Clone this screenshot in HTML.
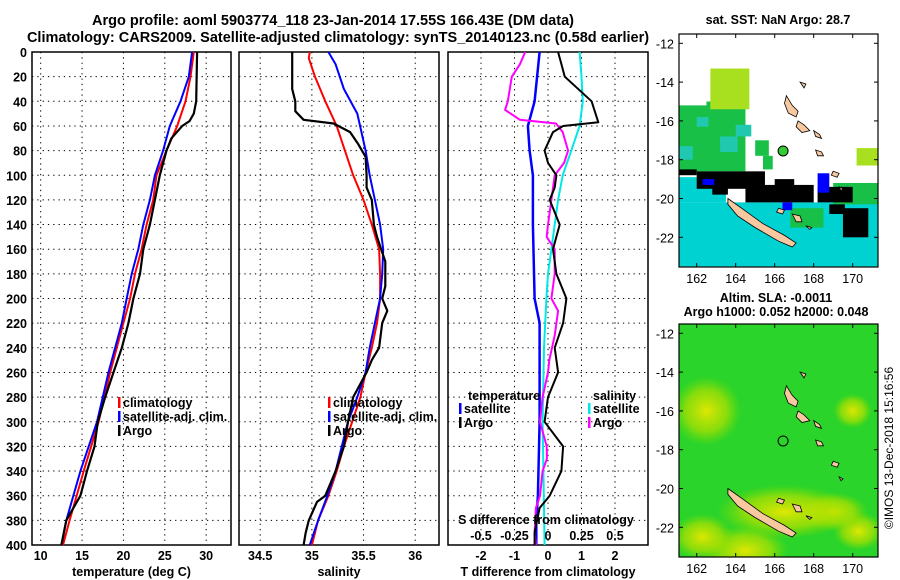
<!DOCTYPE html>
<html><head><meta charset="utf-8"><style>
html,body{margin:0;padding:0;background:#fff;}
svg{display:block;font-family:"Liberation Sans",sans-serif;font-weight:bold;}
</style></head><body>
<svg id="chart" width="900" height="580" viewBox="0 0 900 580" xmlns="http://www.w3.org/2000/svg">
<text x="333" y="25" font-size="14.5" text-anchor="middle">Argo profile: aoml 5903774_118 23-Jan-2014 17.55S 166.43E (DM data)</text>
<text x="338" y="42" font-size="14.5" text-anchor="middle">Climatology: CARS2009. Satellite-adjusted climatology: synTS_20140123.nc (0.58d earlier)</text>
<g id="g1"></g>
<g id="g2"></g>
<g id="g3"></g>
<g id="m1"></g>
<g id="m2"></g>
<text x="778" y="24" font-size="12.5" text-anchor="middle">sat. SST: NaN Argo: 28.7</text>
<text x="776" y="302" font-size="12.5" text-anchor="middle">Altim. SLA: -0.0011</text>
<text x="776" y="316" font-size="12.5" text-anchor="middle">Argo h1000: 0.052 h2000: 0.048</text>
<text transform="translate(893,448) rotate(-90)" font-size="12" font-weight="normal" text-anchor="middle">©IMOS 13-Dec-2018 15:16:56</text>
</svg>
<script>
// ---- data ----
const depthTicks=[0,20,40,60,80,100,120,140,160,180,200,220,240,260,280,300,320,340,360,380,400];
const tempTicks=[10,15,20,25,30];
const salTicks=[34.5,35,35.5,36];
const tdiffTicks=[-2,-1,0,1,2];
const sdiffTicks=[-0.5,-0.25,0,0.25,0.5];
const lonTicks=[162,164,166,168,170];
const latTicks=[-12,-14,-16,-18,-20,-22];

const tClimDepth=[0,20,40,60,80,100,120,140,160,180,200,220,260,300,340,380,400];
const tClim=[28.5,28.1,27.5,26.5,25.2,24.0,23.6,22.8,22.2,21.4,20.8,20.0,18.4,17.0,15.2,13.5,12.7];
const tSatDepth=[0,20,40,60,80,100,120,140,160,180,200,220,260,300,340,380,400];
const tSat=[28.3,27.9,26.9,25.6,24.8,23.8,23.2,22.4,21.8,21.0,20.4,19.8,18.2,16.8,14.8,13.1,12.5];
const tArgoDepth=[0,40,50,56,60,70,80,100,120,140,160,180,200,220,240,260,280,300,320,340,360,380,400];
const tArgo=[28.9,28.8,28.5,28.0,27.1,25.8,25.2,24.4,23.8,23.2,22.4,22.0,21.2,20.6,19.8,18.8,17.8,16.9,16.5,15.6,14.8,13.1,12.5];

const sClimDepth=[0,5,20,40,60,80,100,120,140,160,180,200,220,240,260,280,300,320,340,360,380,400];
const sClim=[34.98,34.97,35.03,35.13,35.24,35.32,35.40,35.50,35.58,35.65,35.66,35.66,35.63,35.58,35.52,35.47,35.39,35.31,35.24,35.16,35.06,35.00];
const sSatDepth=[0,10,30,50,80,100,120,140,160,180,200,220,240,260,280,300,320,340,360,380,400];
const sSat=[35.16,35.23,35.31,35.44,35.52,35.56,35.61,35.66,35.69,35.68,35.66,35.61,35.56,35.52,35.44,35.35,35.29,35.23,35.15,35.06,34.98];
const sArgoDepth=[0,30,40,48,55,58,65,75,85,100,110,120,140,150,170,190,200,210,220,240,250,260,280,300,320,340,360,365,380,390,400];
const sArgo=[34.81,34.81,34.84,34.84,34.92,35.21,35.37,35.45,35.52,35.53,35.53,35.58,35.60,35.63,35.71,35.71,35.68,35.73,35.68,35.65,35.58,35.53,35.40,35.35,35.31,35.23,35.13,35.05,34.97,34.94,34.92];

const dtSatDepth=[0,40,60,80,100,140,200,220,300,360,380,400];
const dtSat=[-0.25,-0.4,-0.6,-0.55,-0.45,-0.45,-0.4,-0.25,-0.25,-0.3,-0.35,-0.35];
const dtArgoDepth=[0,20,40,57,60,65,80,90,100,110,120,140,160,180,200,220,240,260,280,300,320,340,360,370,390,400];
const dtArgo=[0.3,0.5,1.3,1.5,0.45,0.15,-0.1,0,0.25,0.2,0.05,0.35,0.15,0.25,0.55,0.45,0.2,0.3,0,-0.1,0.45,0.4,0.05,-0.25,-0.4,-0.4];
const dsSatDepth=[0,20,40,60,80,100,120,140,160,180,200,240,300,400];
const dsSat=[0.236,0.25,0.26,0.236,0.174,0.11,0.075,0.05,0.025,0,-0.012,-0.03,-0.04,-0.025];
const dsArgoDepth=[0,10,20,40,47,55,58,65,80,90,100,120,140,150,160,180,200,210,230,250,260,280,300,320,330,340,360,370,390,400];
const dsArgo=[-0.17,-0.21,-0.27,-0.3,-0.32,-0.21,0.06,0.11,0.15,0.12,0.05,0.025,0,-0.01,0.05,0.05,0.025,0.075,0.05,0.01,0,-0.04,-0.06,-0.01,-0.008,-0.04,-0.06,-0.09,-0.1,-0.09];

// map patches: [lon1, lat1, lon2, lat2]
const sstCyan=[[161.1,-20.2,171.8,-23.5],[161.1,-18.9,163.5,-20.2]];
const sstBlack=[[161.1,-18.5,162.0,-18.8],[162.0,-18.6,165.5,-19.5],[164.5,-19.3,168.0,-20.2],[166.0,-19.0,167.0,-19.4],[168.2,-19.4,170.0,-20.2],[169.5,-20.5,170.8,-22.0],[168.8,-20.3,169.6,-20.8],[162.8,-19.3,163.6,-19.8]];
const sstGreen=[[161.1,-15.2,164.5,-18.6],[162.5,-15.0,164.0,-15.8],[165.0,-17.0,165.7,-17.8],[165.4,-17.8,165.9,-18.5],[169.0,-19.2,171.8,-20.3],[166.8,-20.5,168.5,-21.5]];
const sstCyanSpots=[[161.1,-17.3,161.8,-18.0],[163.2,-16.8,164.1,-17.6],[164.0,-16.2,164.8,-16.8],[162.0,-15.8,162.6,-16.3]];
const sstYellow=[[162.7,-13.3,164.7,-15.4],[170.2,-17.4,171.3,-18.3]];
const sstBlue=[[168.2,-18.7,168.8,-19.7],[162.3,-19.0,162.9,-19.3],[166.4,-20.2,166.9,-20.6]];
// SLA highlights: [lon, lat, rx(deg), ry(deg)]
const slaYellow=[[164.5,-23.2,2.2,1.3],[170.3,-22.2,1.3,1.0],[169.0,-21.2,1.8,1.0],[162.5,-16.0,1.8,1.8],[166.5,-21.2,3.5,1.4],[170.0,-16.0,1.0,0.9],[162.3,-22.5,1.6,1.2]];

// ---- helpers ----
const NS='http://www.w3.org/2000/svg';
function mk(tag,attrs,parent){const e=document.createElementNS(NS,tag);for(const k in attrs)e.setAttribute(k,attrs[k]);parent.appendChild(e);return e;}
const TOP=52,BOT=545;
const yD=d=>TOP+(BOT-TOP)*d/400;

function panel(g,x0,x1,xmin,xmax,gridVals,fmt,showDepth,xlab){
  const sx=v=>x0+(x1-x0)*(v-xmin)/(xmax-xmin);
  depthTicks.forEach(d=>{
    const l=mk('line',{x1:x0,x2:x1,y1:yD(d),y2:yD(d),stroke:'#000','stroke-width':1,'stroke-dasharray':'1.3 4'},g);
    
    
    if(showDepth){const t=mk('text',{x:x0-5,y:yD(d)+5,'font-size':12.5,'text-anchor':'end'},g);t.textContent=d;
      
      }
  });
  gridVals.forEach(v=>{
    const l=mk('line',{x1:sx(v),x2:sx(v),y1:TOP,y2:BOT,stroke:'#000','stroke-width':1,'stroke-dasharray':'1.3 4'},g);
    
    
    const t=mk('text',{x:sx(v),y:560,'font-size':12.5,'text-anchor':'middle'},g);t.textContent=fmt(v);
    
    
  });
  const r=mk('rect',{x:x0,y:TOP,width:x1-x0,height:BOT-TOP,fill:'none',stroke:'#000','stroke-width':1.5},g);
  
  
  const t=mk('text',{x:(x0+x1)/2,y:576,'font-size':12.5,'text-anchor':'middle'},g);t.textContent=xlab;
  
  
  return sx;
}
function line(g,sx,depths,vals,color,w,name){
  const p=depths.map((d,i)=>sx(vals[i]).toFixed(1)+','+yD(d).toFixed(1)).join(' ');
  const l=mk('polyline',{points:p,fill:'none',stroke:color,'stroke-width':w,'stroke-linejoin':'round'},g);
  
  
}
function legend(g,x,y,color,label){
  const b=mk('rect',{x:x,y:y-10,width:2.5,height:11,fill:color},g);
  
  
  const t=mk('text',{x:x+5,y:y,'font-size':12.5},g);t.textContent=label;
  
  
}

// panel 1
const g1=document.getElementById('g1');
const sx1=panel(g1,32,231,8.95,33,tempTicks,v=>v,true,'temperature (deg C)');
line(g1,sx1,tClimDepth,tClim,'#ff0000',2,'climatology-temperature-line');
line(g1,sx1,tSatDepth,tSat,'#0000ff',2,'satellite-temperature-line');
line(g1,sx1,tArgoDepth,tArgo,'#000',2.2,'argo-temperature-line');
legend(g1,118,407,'#ff0000','climatology');
legend(g1,118,421,'#0000ff','satellite-adj. clim.');
legend(g1,118,435,'#000','Argo');

// panel 2
const g2=document.getElementById('g2');
const sx2=panel(g2,239,439,34.295,36.23,salTicks,v=>v,false,'salinity');
line(g2,sx2,sClimDepth,sClim,'#ff0000',2,'climatology-salinity-line');
line(g2,sx2,sSatDepth,sSat,'#0000ff',2,'satellite-salinity-line');
line(g2,sx2,sArgoDepth,sArgo,'#000',2.2,'argo-salinity-line');
legend(g2,328,407,'#ff0000','climatology');
legend(g2,328,421,'#0000ff','satellite-adj. clim.');
legend(g2,328,435,'#000','Argo');

// panel 3
const g3=document.getElementById('g3');
const sx3=panel(g3,448,648,-2.985,2.985,tdiffTicks,v=>v,false,'T difference from climatology');
const sxS=v=>sx3(v*4);
line(g3,sx3,dtSatDepth,dtSat,'#0000ff',2.5,'satellite-t-diff-line');
line(g3,sxS,dsSatDepth,dsSat,'#00e8e8',2,'satellite-s-diff-line');
line(g3,sxS,dsArgoDepth,dsArgo,'#ff00ff',2,'argo-s-diff-line');
line(g3,sx3,dtArgoDepth,dtArgo,'#000',2,'argo-t-diff-line');
{const t=mk('text',{x:546,y:524,'font-size':12.5,'text-anchor':'middle'},g3);t.textContent='S difference from climatology';
 
 }
sdiffTicks.forEach(v=>{const t=mk('text',{x:sxS(v),y:540,'font-size':12.5,'text-anchor':'middle'},g3);t.textContent=v;
 
 });
{const t=mk('text',{x:468,y:400,'font-size':12.5},g3);t.textContent='temperature';
 
 
 const t2=mk('text',{x:593,y:400,'font-size':12.5},g3);t2.textContent='salinity';
 
 }
legend(g3,459,413,'#0000ff','satellite');
legend(g3,459,427,'#000','Argo');
legend(g3,588,413,'#00e8e8','satellite');
legend(g3,588,427,'#ff00ff','Argo');

// maps
const MX0=679,MX1=878;
const lx=lon=>696.7+(lon-162)*19.5;
function map(g,top,bot,isSST){
  const ly=lat=>top+9.3+(-12-lat)*19.4;
  const clip='clip'+top;
  const cp=mk('clipPath',{id:clip},g);mk('rect',{x:MX0,y:top,width:MX1-MX0,height:bot-top},cp);
  const inner=mk('g',{'clip-path':'url(#'+clip+')'},g);
  const box=(arr,color,name)=>arr.forEach(b=>{
    const r=mk('rect',{x:lx(b[0]),y:ly(b[1]),width:lx(b[2])-lx(b[0]),height:ly(b[3])-ly(b[1]),fill:color},inner);
    
    
  });
  if(isSST){
    mk('rect',{x:MX0,y:top,width:MX1-MX0,height:bot-top,fill:'#fff'},inner);
    box(sstCyan,'#00d2d2','sst-cyan-patch');
    box(sstGreen,'#18c048','sst-green-patch');
    box(sstCyanSpots,'#20c8b0','sst-cyan-spot');
    box(sstYellow,'#a8e020','sst-yellow-patch');
    box(sstBlack,'#000','sst-black-patch');
    box(sstBlue,'#0000ff','sst-blue-patch');
  } else {
    const defs=mk('defs',{},g);
    const rg=mk('radialGradient',{id:'yg'},defs);
    mk('stop',{offset:'0','stop-color':'#e8e800','stop-opacity':'0.95'},rg);
    mk('stop',{offset:'0.6','stop-color':'#b0e000','stop-opacity':'0.7'},rg);
    mk('stop',{offset:'1','stop-color':'#80dd00','stop-opacity':'0'},rg);
    mk('rect',{x:MX0,y:top,width:MX1-MX0,height:bot-top,fill:'#2ad42a'},inner);
    slaYellow.forEach(e=>{
      const el=mk('ellipse',{cx:lx(e[0]),cy:ly(e[1]),rx:e[2]*19.5,ry:e[3]*19.4,fill:'url(#yg)'},inner);
      
      
    });
  }
  const isl=(pts,name)=>{const p=mk('polygon',{points:pts.map(q=>lx(q[0]).toFixed(1)+','+ly(q[1]).toFixed(1)).join(' '),fill:'#f8c8a0',stroke:'#000','stroke-width':0.8},inner);
    };
  isl([[163.6,-20.0],[164.3,-20.5],[165.4,-21.3],[166.5,-21.9],[167.1,-22.3],[166.9,-22.5],[166.2,-22.2],[165.0,-21.5],[164.1,-20.9],[163.6,-20.3]],'new-caledonia-island');
  isl([[166.6,-14.7],[166.9,-15.2],[167.2,-15.5],[167.1,-15.8],[166.7,-15.6],[166.5,-15.1]],'espiritu-santo-island');
  isl([[167.2,-16.0],[167.5,-16.2],[167.8,-16.5],[167.4,-16.6],[167.1,-16.3]],'malekula-island');
  isl([[168.1,-17.5],[168.4,-17.6],[168.5,-17.8],[168.2,-17.8]],'efate-island');
  isl([[168.0,-16.5],[168.3,-16.7],[168.4,-16.9],[168.1,-16.8]],'epi-island');
  isl([[169.0,-18.6],[169.3,-18.7],[169.2,-18.9],[168.9,-18.8]],'erromango-island');
  isl([[169.3,-19.4],[169.5,-19.5],[169.4,-19.6]],'tanna-island');
  isl([[166.9,-20.8],[167.3,-20.9],[167.4,-21.2],[167.1,-21.2]],'lifou-island');
  isl([[167.6,-21.4],[167.9,-21.5],[167.8,-21.6]],'mare-island');
  isl([[166.2,-20.5],[166.5,-20.6],[166.4,-20.8],[166.1,-20.7]],'ouvea-island');
  isl([[167.3,-14.0],[167.6,-14.1],[167.5,-14.3]],'banks-island');
  const c=mk('circle',{cx:lx(166.43),cy:ly(-17.55),r:5,fill:isSST?'#33cc33':'none',stroke:'#000','stroke-width':1},inner);
  
  
  const fr=mk('rect',{x:MX0,y:top,width:MX1-MX0,height:bot-top,fill:'none',stroke:'#000','stroke-width':1.2},g);
  
  
  lonTicks.forEach(v=>{
    mk('line',{x1:lx(v),x2:lx(v),y1:top,y2:top+4,stroke:'#000'},g);
    mk('line',{x1:lx(v),x2:lx(v),y1:bot,y2:bot-4,stroke:'#000'},g);
    const t=mk('text',{x:lx(v),y:bot+16,'font-size':12.5,'text-anchor':'middle','font-weight':'normal'},g);t.textContent=v;
    
    
  });
  latTicks.forEach(v=>{
    mk('line',{x1:MX0,x2:MX0+4,y1:ly(v),y2:ly(v),stroke:'#000'},g);
    mk('line',{x1:MX1,x2:MX1-4,y1:ly(v),y2:ly(v),stroke:'#000'},g);
    const t=mk('text',{x:MX0-5,y:ly(v)+5,'font-size':12.5,'text-anchor':'end','font-weight':'normal'},g);t.textContent=v;
    
    
  });
}
map(document.getElementById('m1'),34,267,true);
map(document.getElementById('m2'),324,557,false);
</script>
</body></html>
